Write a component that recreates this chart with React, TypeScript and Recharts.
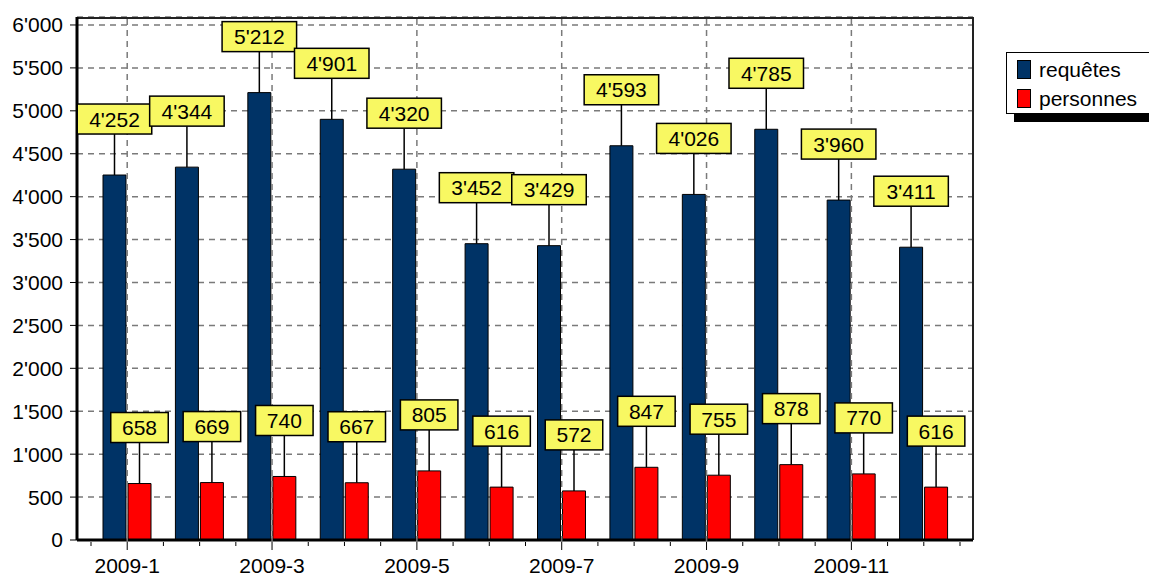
import { Bar, BarChart, CartesianGrid, LabelList, XAxis, YAxis } from "recharts";

const months = [
  "2009-1", "2009-2", "2009-3", "2009-4", "2009-5", "2009-6",
  "2009-7", "2009-8", "2009-9", "2009-10", "2009-11", "2009-12",
];
const requetes = [4252, 4344, 5212, 4901, 4320, 3452, 3429, 4593, 4026, 4785, 3960, 3411];
const personnes = [658, 669, 740, 667, 805, 616, 572, 847, 755, 878, 770, 616];
const yTicks = [0, 500, 1000, 1500, 2000, 2500, 3000, 3500, 4000, 4500, 5000, 5500, 6000];

const series = [
  { key: "requetes", name: "requêtes", color: "#003366" },
  { key: "personnes", name: "personnes", color: "#ff0000" },
];

const W = 1149;
const H = 576;
const X_AXIS_H = 36;
const MARGIN = { top: 17, right: 176, bottom: 0, left: 0 };
const Y_AXIS_W = 77;
const PAD = { left: 14, right: 13 };
const PLOT_W = W - MARGIN.left - MARGIN.right - Y_AXIS_W;
const PLOT_H = H - MARGIN.top - MARGIN.bottom - X_AXIS_H;
const HALF_BAND = (PLOT_W - PAD.left - PAD.right) / months.length / 2;
const FONT = "'Liberation Sans', Arial, sans-serif";
const GRID = "#7a7a7a";

const data = months.map((m, i) => ({ month: m, requetes: requetes[i], personnes: personnes[i] }));

function fmt(v: number): string {
  const s = String(Math.round(v));
  return s.replace(/\B(?=(\d{3})+(?!\d))/g, "'");
}

function XTick(props: any) {
  const { x, y, payload, index } = props;
  const major = index % 2 === 0;
  const last = index === months.length - 1;
  return (
    <g>
      {major && (
        <line x1={x} x2={x} y1={y} y2={y - PLOT_H} stroke={GRID} strokeWidth={1.5} strokeDasharray="6 5" />
      )}
      <line x1={x} x2={x} y1={y} y2={y + (major ? 8 : 4)} stroke="#000" />
      <line x1={x - HALF_BAND} x2={x - HALF_BAND} y1={y} y2={y + 4} stroke="#000" />
      {last && <line x1={x + HALF_BAND} x2={x + HALF_BAND} y1={y} y2={y + 4} stroke="#000" />}
      {major && (
        <text x={x} y={y + 31} textAnchor="middle" fontSize={21} fontFamily={FONT} fill="#000">
          {payload.value}
        </text>
      )}
    </g>
  );
}

function ValueBox(props: any) {
  const { x, y, width, value } = props;
  const cx = Number(x) + Number(width) / 2;
  const top = Number(y);
  const text = fmt(Number(value));
  const bw = 8.5 * text.length + 32;
  const bh = 30;
  const bottom = top - 41;
  return (
    <g>
      <line x1={cx} x2={cx} y1={top} y2={bottom} stroke="#000" strokeWidth={1.5} />
      <rect x={cx - bw / 2} y={bottom - bh} width={bw} height={bh} fill="#f8f862" stroke="#000" strokeWidth={1.5} />
      <text x={cx} y={bottom - bh / 2 + 7.5} textAnchor="middle" fontSize={21} fontFamily={FONT} fill="#000">
        {text}
      </text>
    </g>
  );
}

export default function App() {
  return (
    <div style={{ position: "absolute", left: 0, top: 0, width: W, height: H, overflow: "hidden", background: "#fff" }}>
      <BarChart width={W} height={H} data={data} margin={MARGIN} barGap={2} barSize={23}>
        <CartesianGrid vertical={false} stroke={GRID} strokeWidth={1.5} strokeDasharray="6 5" />
        {/* plot frame: top and right edges */}
        <CartesianGrid
          horizontalPoints={[MARGIN.top + 1]}
          verticalPoints={[W - MARGIN.right]}
          stroke="#222"
          strokeWidth={2}
        />
        <XAxis
          dataKey="month"
          interval={0}
          padding={PAD}
          height={X_AXIS_H}
          tickSize={0}
          tickLine={false}
          tick={<XTick />}
          axisLine={{ stroke: "#000", strokeWidth: 3 }}
        />
        <YAxis
          domain={[0, 6093]}
          ticks={yTicks}
          interval={0}
          width={Y_AXIS_W}
          tickFormatter={fmt}
          tickSize={7}
          tickMargin={7}
          tick={{ fontSize: 21, fontFamily: FONT, fill: "#000" }}
          tickLine={{ stroke: "#000" }}
          axisLine={{ stroke: "#000", strokeWidth: 3 }}
        />
        {series.map((s) => (
          <Bar key={s.key} dataKey={s.key} name={s.name} fill={s.color} stroke="#000" strokeWidth={1} isAnimationActive={false}>
            <LabelList dataKey={s.key} content={<ValueBox />} />
          </Bar>
        ))}
      </BarChart>
      <div
        style={{
          position: "absolute",
          left: 1006,
          top: 52,
          width: 150,
          height: 62,
          border: "1px solid #000",
          background: "#fff",
          boxShadow: "8px 8px 0 #000",
          fontFamily: FONT,
          fontSize: 21,
          boxSizing: "border-box",
        }}
      >
        {series.map((s, i) => (
          <div key={s.key} style={{ position: "absolute", left: 10, top: 7 + i * 29, display: "flex", alignItems: "center" }}>
            <span style={{ display: "inline-block", width: 12, height: 17, background: s.color, border: "1px solid #000" }} />
            <span style={{ marginLeft: 8, lineHeight: "19px" }}>{s.name}</span>
          </div>
        ))}
      </div>
    </div>
  );
}
